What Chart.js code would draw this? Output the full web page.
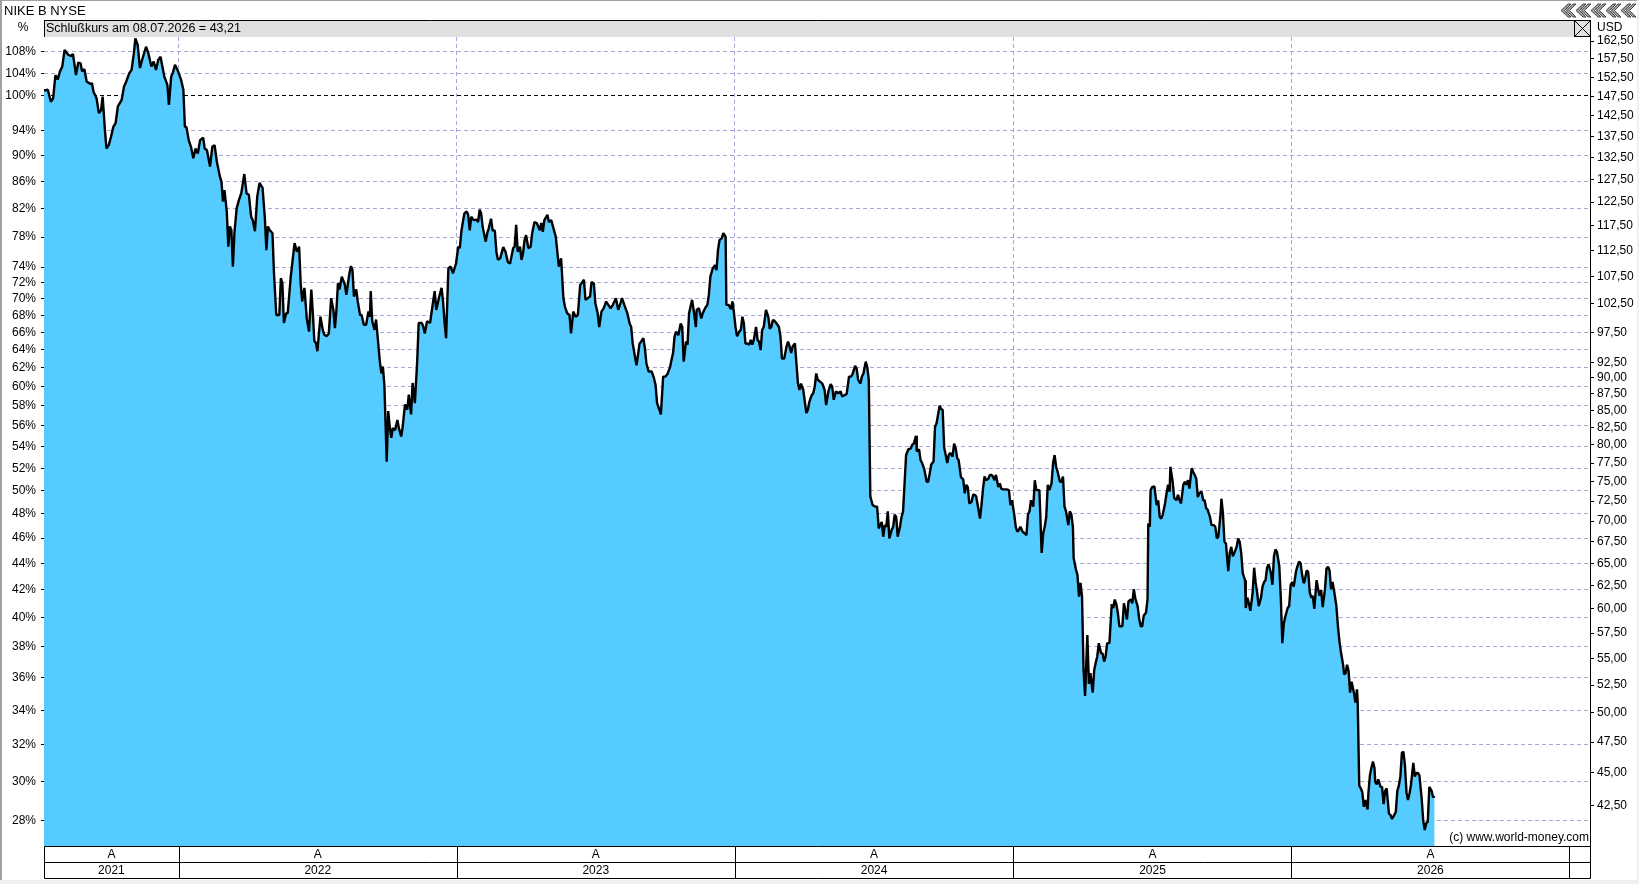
<!DOCTYPE html>
<html>
<head>
<meta charset="utf-8">
<title>NIKE B NYSE</title>
<script src="https://cdn.jsdelivr.net/npm/chart.js@4/dist/chart.umd.min.js"></script>
<style>
  html, body { margin: 0; padding: 0; background: #fff; }
  #wrap { width: 1639px; height: 884px; }
</style>
</head>
<body>
<div id="wrap"><canvas id="kurs" width="1639" height="884"></canvas></div>
<script>
// Titel / Texte
var titel = 'NIKE B NYSE';
var kopfzeile = 'Schlußkurs am 08.07.2026 = 43,21';
var quelle = '(c) www.world-money.com';

// Tage seit 08.07.2021 (Handelstage)
var tage = [
  0,5,9,12,15,18,21,24,27,32,
  36,38,42,45,48,50,53,56,61,63,
  65,69,72,75,77,80,82,85,88,91,
  94,97,102,105,108,112,115,118,120,123,
  126,130,134,137,141,144,147,150,153,155,
  158,162,164,167,169,172,176,180,183,185,
  187,190,193,196,199,202,205,209,211,214,
  218,221,224,227,231,233,235,237,240,242,
  244,246,248,250,253,256,259,263,266,269,
  272,274,277,280,283,287,290,292,294,296,
  300,302,305,309,311,313,315,318,320,324,
  326,329,332,335,337,339,342,345,348,351,
  353,355,357,359,361,363,366,368,371,374,
  377,380,382,384,386,388,391,395,397,401,
  403,405,407,410,412,415,417,420,423,426,
  428,429,431,434,436,439,441,443,445,447,
  450,452,454,456,458,461,464,466,469,471,
  474,477,479,482,484,487,490,492,496,498,
  500,503,507,510,513,515,519,522,524,526,
  528,531,534,537,541,544,
  546,548,550,552,555,557,559,561,564,568,
  570,572,574,576,580,582,584,587,589,592,
  594,596,599,603,606,609,612,616,618,620,
  622,625,627,629,631,633,636,639,641,644,
  647,651,653,655,657,661,663,666,669,672,
  674,676,679,682,684,687,690,692,695,698,
  701,704,707,709,711,714,717,719,722,724,
  727,729,732,735,738,741,744,747,751,754,
  757,759,762,766,769,771,773,776,778,780,
  782,784,787,789,791,794,798,801,803,805,
  808,810,813,816,819,822,824,826,828,830,
  833,836,838,840,843,845,847,849,851,853,
  856,857,860,863,865,868,871,873,875,878,
  881,883,885,887,890,892,895,896,899,902,
  904,906,908,910,913,915,917,919,921,923,
  926,928,930,932,935,937,939,941,943,945,
  948,951,953,955,957,959,962,965,967,969,
  972,975,977,979,981,983,986,988,990,992,
  994,997,999,1001,1003,1005,1008,1010,1012,1014,
  1016,1019,1022,1025,1027,1030,1033,1035,1037,1040,
  1043,1046,1048,1051,1054,1057,1060,1062,1065,1067,
  1069,1072,1074,1076,1079,1081,1083,1085,1088,1091,
  1094,1096,
  1097,1100,1102,1104,1106,1108,1110,1113,1115,1117,
  1119,1121,1124,1126,1128,1130,1132,1135,1138,1140,
  1142,1145,1146,1149,1151,1153,1156,1159,1161,1163,
  1165,1168,1170,1172,1174,1176,1178,1180,1182,1184,
  1186,1188,1190,1193,1195,1197,1199,1201,1204,1207,
  1209,1211,1213,1215,1218,1220,1222,1224,1226,1229,
  1231,1233,1235,1237,1240,1242,1244,1246,1248,1250,
  1253,1255,1257,1259,1264,1267,1269,1271,1274,1276,
  1278,1280,1282,1285,1288,1290,1292,1294,1296,1299,
  1301,1303,1305,1307,1310,1312,1314,1316,1318,1320,
  1323,1325,1327,1329,1331,1334,1336,1338,1340,1342,
  1345,1347,1349,1351,1352,1355,1357,1359,1361,1363,
  1365,1367,1370,1372,1374,1377,1379,1381,1383,1385,
  1388,1390,1392,1394,1396,1399,1402,1404,1406,1408,
  1410,1412,1416,1418,1420,1422,1424,1427,1429,1431,
  1433,1436,1438,1440,1442,1444,1447,1449,1450,1452,
  1453,1455,1458,1461,1463,1465,1467,1469,1472,1474,
  1476,1478,1479,1482,1484,1487,1489,1491,1493,1496,
  1498,1500,1502,1504,1507,1509,1511,1513,1515,1517,
  1520,1522,1524,1526,1528,1531,1533,1536,1538,1540,
  1542,1545,1546,1548,1550,1552,1555,1557,1559,1561,
  1563,1566,1568,1570,1572,1574,1577,1578,1580,1582,
  1584,1587,1589,1591,1593,1595,1598,1600,1602,1604,
  1606,1608,1611,1613,1615,1617,1619,1622,1624,1626,
  1628,1630,1633,1635,1637,1639,1641,1644,1646,1648,
  1650,1652,1654,
  1655,1658,1660,1662,1664,1666,1668,1671,1673,1675,
  1677,1679,1682,1684,1686,1688,1690,1692,1695,1697,
  1699,1701,1703,1706,1707,1709,1711,1713,1715,1717,
  1720,1722,1724,1725,1727,1729,1731,1733,1735,1738,
  1739,1741,1743,1745,1747,1748,1750,1752,1755,1757,
  1759,1761,1763,1766,1768,1770,1773,1775,1777,1779,
  1781,1783,1785,1787,1789,1791,1793,1795,1798,1800,
  1802,1804,1806,1809,1811,1813,1815,1817,1819,1822,
  1824,1826
];

// Schlusskurse in USD
var kurse = [
  149.0,149.2,146.1,147.0,153.1,151.9,154.1,155.4,160.0,158.6,
  158.3,158.9,153.1,156.5,156.3,154.1,154.7,151.4,150.7,150.9,
  148.7,147.0,143.2,144.0,147.4,139.0,134.6,135.4,137.4,139.8,
  140.7,144.9,146.6,150.0,151.4,153.6,154.5,159.1,163.3,161.4,
  155.0,158.1,160.9,159.1,155.4,156.8,154.5,157.2,158.1,155.9,
  152.7,150.5,145.3,152.7,153.6,155.9,154.1,151.8,149.2,139.8,
  139.8,136.6,135.0,132.3,134.6,133.4,136.6,137.2,134.6,134.2,
  130.4,135.0,135.4,131.5,128.1,127.0,122.6,125.1,120.5,113.3,
  117.4,116.7,109.4,116.0,121.2,123.0,124.4,128.7,124.4,124.1,
  119.4,118.7,116.4,123.7,126.7,125.6,119.1,112.6,117.4,116.7,
  116.0,108.1,100.5,100.5,107.2,106.3,99.1,100.8,100.8,107.5,
  110.0,114.0,112.3,113.3,106.3,102.9,105.4,99.9,97.6,105.1,
  100.8,96.0,95.7,94.3,97.3,100.2,97.9,97.1,96.8,97.3,
  103.5,101.4,98.2,101.4,106.3,105.1,107.5,106.0,104.1,108.1,
  109.5,108.8,103.8,105.1,102.9,100.5,100.5,98.8,98.8,101.1,
  100.2,104.8,99.4,97.9,99.7,95.4,92.6,90.7,91.8,88.7,
  77.7,84.9,82.6,81.0,82.4,82.1,83.6,82.4,81.2,82.6,
  85.9,85.1,87.4,84.4,89.2,86.1,92.6,99.1,99.1,98.5,
  97.3,99.4,99.1,102.0,104.8,101.4,103.8,105.4,102.9,99.1,
  96.5,109.1,109.4,108.1,110.0,113.3,
  113.0,116.3,118.3,120.1,120.5,119.8,116.6,119.4,118.7,118.8,
  118.3,120.9,120.1,117.3,114.3,116.0,117.0,119.0,116.6,116.5,
  112.3,110.7,111.0,113.2,112.3,110.3,110.0,113.0,113.3,117.7,
  112.3,113.3,110.7,112.0,114.6,115.6,113.0,113.3,116.0,118.3,
  118.1,116.6,118.1,116.3,118.7,119.8,118.3,118.7,117.0,115.3,
  112.3,109.4,111.0,103.5,102.0,100.8,100.5,97.3,101.1,100.2,
  100.5,105.9,106.5,106.9,103.2,103.5,103.8,106.5,106.2,102.6,
  100.8,98.4,101.1,101.7,102.9,102.3,101.7,102.3,103.5,101.4,
  102.6,103.5,102.3,100.8,99.0,98.4,95.6,93.4,92.0,93.7,
  95.6,95.9,96.5,94.8,92.3,91.0,91.0,89.9,88.9,86.1,
  85.1,84.4,90.2,90.2,90.7,91.7,92.9,94.0,96.8,97.6,
  97.0,99.0,98.4,92.6,95.9,95.4,100.8,102.0,103.2,101.4,
  98.4,101.4,101.7,99.9,100.8,101.7,102.3,104.1,107.5,109.0,
  109.7,108.7,112.6,114.6,115.0,116.0,115.3,102.3,102.3,101.5,
  102.9,100.8,98.4,96.8,97.6,97.9,100.2,99.0,95.6,95.6,
  95.4,96.2,95.4,96.2,98.4,96.2,95.9,94.5,97.9,98.4,
  101.4,100.2,98.1,98.4,99.6,99.5,99.0,98.4,96.8,93.1,
  93.1,95.1,95.9,95.1,94.0,95.1,95.6,92.3,89.1,88.1,
  89.1,88.1,86.3,84.6,85.1,86.3,87.3,87.6,88.6,90.7,
  89.7,89.4,89.1,88.1,85.8,87.9,89.0,88.6,86.6,87.9,
  87.6,87.9,87.1,87.3,87.5,90.2,90.2,90.7,91.9,91.5,
  89.7,89.1,90.2,90.7,92.6,91.7,89.7,73.1,72.0,71.8,
  71.8,69.1,
  69.3,69.9,68.1,69.5,69.3,71.2,67.9,68.9,69.3,70.8,
  70.5,68.1,69.3,70.5,71.2,74.8,78.6,79.4,79.5,80.0,
  80.2,81.3,79.1,79.4,77.9,77.5,76.6,75.0,75.0,76.1,
  77.3,77.7,82.6,83.1,84.4,85.7,85.2,85.1,79.6,78.6,
  77.5,78.6,78.9,78.4,80.2,79.6,78.2,77.9,75.6,75.3,
  73.5,74.6,74.3,72.2,72.4,73.3,73.3,73.1,72.0,70.3,
  72.0,74.1,75.7,75.2,75.4,75.9,75.9,75.7,75.2,75.9,
  74.3,74.8,74.1,74.0,74.0,73.9,72.0,72.6,70.8,69.3,
  68.7,68.9,69.3,68.7,68.5,68.3,70.8,71.2,72.6,71.8,
  75.2,73.9,73.9,73.9,66.2,68.5,69.3,70.5,74.6,73.9,
  74.8,77.5,78.6,77.0,76.3,75.0,75.0,75.7,71.8,71.2,
  69.5,71.2,70.8,69.3,65.6,64.3,63.7,61.3,62.8,61.3,
  53.9,51.5,57.3,52.6,53.6,51.8,53.9,54.6,55.2,56.5,
  55.5,55.5,54.7,55.2,56.5,56.5,60.5,60.1,61.0,60.5,
  59.6,58.2,58.2,60.6,59.8,58.9,60.8,61.0,60.6,62.1,
  61.1,60.3,59.0,58.2,58.2,59.3,59.6,61.0,69.7,69.3,
  73.9,74.3,74.4,72.0,72.6,70.5,70.3,70.8,72.2,73.5,
  74.6,73.7,77.0,75.0,72.9,72.6,73.3,72.6,72.2,74.6,
  75.0,74.6,75.2,74.1,76.8,76.3,75.9,75.4,73.0,73.5,
  73.7,72.6,72.6,71.6,71.4,70.5,69.5,69.5,69.3,67.9,
  68.1,71.0,72.8,71.0,67.5,67.3,64.1,66.2,66.9,65.8,
  66.2,66.9,67.9,67.5,66.2,63.9,63.1,60.1,61.2,60.6,
  59.8,61.7,64.5,62.8,61.7,60.3,61.2,62.4,62.9,63.1,
  64.5,64.9,63.9,62.6,65.8,66.6,66.3,64.7,61.2,56.5,
  58.5,59.2,60.1,60.3,62.6,62.9,62.4,64.1,64.7,65.2,
  65.0,63.7,62.8,
  62.9,64.2,64.0,61.8,61.2,61.4,60.0,63.1,62.1,61.4,
  62.0,60.2,62.1,64.4,64.6,64.2,62.1,62.9,61.4,60.3,
  58.2,56.7,55.6,54.3,53.5,53.6,54.4,53.8,51.8,52.8,
  51.8,50.9,52.1,50.9,44.0,43.8,43.5,42.4,42.9,42.2,
  43.4,44.8,45.4,45.9,45.4,44.3,44.1,44.5,43.9,43.9,
  42.6,43.6,43.8,41.9,41.8,41.5,41.8,42.0,43.6,44.0,
  44.7,46.6,46.7,45.6,43.5,42.9,43.4,44.1,45.8,44.7,
  45.0,45.0,44.8,43.0,41.4,40.7,41.2,41.3,43.9,43.6,
  43.1,43.21
];

// Basis (100 %) und Achsen
var basisKurs = 147.7;
var prozentTicks = [28,30,32,34,36,38,40,42,44,46,48,50,52,54,56,58,60,62,64,66,68,70,72,74,78,82,86,90,94,100,104,108];
var usdTicks = [42.5,45,47.5,50,52.5,55,57.5,60,62.5,65,67.5,70,72.5,75,77.5,80,82.5,85,87.5,90,92.5,97.5,102.5,107.5,112.5,117.5,122.5,127.5,132.5,137.5,142.5,147.5,152.5,157.5,162.5];
var usdMin = 39.58, usdMax = 163.68;

// Jahre (Tage seit Start, jeweils 1. Januar)
var jahre = ['2021','2022','2023','2024','2025','2026'];
var jahresAnfang = [0, 177, 542, 907, 1273, 1638, 2003];
var xMax = 2030;

var schrift = '"Liberation Sans", Arial, sans-serif';

function fmtUsd(v) { return v.toFixed(2).replace('.', ','); }

// Rahmen, Kopfzeile, Jahresleiste
var rahmen = {
  id: 'rahmen',
  beforeDraw: function(chart) {
    var c = chart.ctx;
    c.save();
    c.fillStyle = '#ffffff';
    c.fillRect(0, 0, chart.width, chart.height);
    c.restore();
  },
  afterDraw: function(chart) {
    var c = chart.ctx, a = chart.chartArea, xs = chart.scales.x;
    c.save();
    // Fensterrand
    c.fillStyle = '#a0a0a0';
    c.fillRect(0, 0, chart.width, 1);
    c.fillRect(0, 0, 2, chart.height);
    c.fillStyle = '#f0f0f0';
    c.fillRect(0, 880, chart.width, 4);
    c.fillRect(1637, 0, 2, chart.height);

    // Titel
    c.fillStyle = '#000';
    c.font = '13px ' + schrift;
    c.textBaseline = 'middle';
    c.textAlign = 'left';
    c.fillText(titel, 4, 11);

    // Kopfzeile
    c.fillStyle = '#e0e0e0';
    c.fillRect(a.left, 21, a.right - a.left, a.top - 21);
    c.strokeStyle = '#000';
    c.lineWidth = 1;
    c.beginPath();
    c.moveTo(a.left, 20.5); c.lineTo(a.right + 0.5, 20.5);
    c.moveTo(a.left + 0.5, 20.5); c.lineTo(a.left + 0.5, a.top);
    c.moveTo(a.right + 0.5, 20.5); c.lineTo(a.right + 0.5, a.top);
    c.stroke();
    c.fillStyle = '#000';
    c.font = '12.5px ' + schrift;
    c.fillText(kopfzeile, a.left + 2, 29);

    // Schliessen-Box
    var bx = a.right - 16;
    c.beginPath();
    c.rect(bx + 0.5, 20.5, 16, 16);
    c.moveTo(bx + 0.5, 20.5); c.lineTo(bx + 16.5, 36.5);
    c.moveTo(bx + 16.5, 20.5); c.lineTo(bx + 0.5, 36.5);
    c.stroke();

    // Einheiten
    c.font = '12px ' + schrift;
    c.textAlign = 'center';
    c.fillText('%', 23, 28);
    c.textAlign = 'left';
    c.fillText('USD', a.right + 7, 28);

    // Pfeil-Symbole oben rechts
    for (var i = 0; i < 5; i++) {
      var x0 = 1561 + i * 15;
      for (var k = 0; k < 2; k++) {
        var xx = x0 + k * 5;
        c.beginPath();
        c.moveTo(xx, 10.5);
        c.lineTo(xx + 7, 4);
        c.lineTo(xx + 10, 4);
        c.lineTo(xx + 3.5, 10.5);
        c.lineTo(xx + 10, 17);
        c.lineTo(xx + 7, 17);
        c.closePath();
        c.fillStyle = '#9c9c9c';
        c.fill();
        c.strokeStyle = '#4a4a4a';
        c.stroke();
      }
    }

    // Quelle
    c.fillStyle = '#000';
    c.textAlign = 'right';
    c.font = '12px ' + schrift;
    c.fillText(quelle, a.right - 1, a.bottom - 8);

    // Jahresleiste
    c.strokeStyle = '#000';
    var y1 = a.bottom, y2 = a.bottom + 16, y3 = a.bottom + 32;
    c.beginPath();
    c.rect(a.left + 0.5, y1 + 0.5, a.right - a.left, y3 - y1);
    c.moveTo(a.left, y2 + 0.5); c.lineTo(a.right, y2 + 0.5);
    for (var j = 1; j < jahresAnfang.length; j++) {
      var px = Math.round(xs.getPixelForValue(jahresAnfang[j])) + 0.5;
      c.moveTo(px, y1); c.lineTo(px, y3);
    }
    c.stroke();
    c.textAlign = 'center';
    for (var n = 0; n < jahre.length; n++) {
      var l = xs.getPixelForValue(jahresAnfang[n]);
      var r = xs.getPixelForValue(jahresAnfang[n + 1]);
      var m = (l + r) / 2;
      c.fillText('A', m, y1 + 9);
      c.fillText(jahre[n], m, y2 + 9);
    }
    c.restore();
  }
};

var punkte = tage.map(function(t, i) { return { x: t, y: kurse[i] }; });

new Chart(document.getElementById('kurs').getContext('2d'), {
  type: 'line',
  data: {
    datasets: [{
      data: punkte,
      yAxisID: 'usd',
      borderColor: '#000000',
      borderWidth: 2.4,
      borderJoinStyle: 'bevel',
      backgroundColor: '#55cbff',
      fill: 'start',
      pointRadius: 0,
      tension: 0
    }]
  },
  options: {
    responsive: false,
    animation: false,
    devicePixelRatio: 1,
    layout: { padding: { top: 37, bottom: 38, left: 0, right: 0 } },
    plugins: { legend: { display: false }, tooltip: { enabled: false } },
    scales: {
      x: {
        type: 'linear',
        min: 0,
        max: xMax,
        afterBuildTicks: function(s) {
          s.ticks = jahresAnfang.slice(1, 6).map(function(v) { return { value: v }; });
        },
        afterFit: function(s) { s.height = 0; },
        ticks: { display: false },
        grid: { color: '#a8a8d8', drawTicks: false, lineWidth: 1 },
        border: { display: false, dash: [4, 3] }
      },
      pct: {
        type: 'logarithmic',
        position: 'left',
        min: usdMin / basisKurs * 100,
        max: usdMax / basisKurs * 100,
        afterBuildTicks: function(s) {
          s.ticks = prozentTicks.map(function(v) { return { value: v }; });
        },
        afterFit: function(s) { s.width = 44; },
        ticks: {
          autoSkip: false,
          padding: 5,
          color: '#000',
          font: { family: schrift, size: 12 },
          callback: function(v) { return v + '%'; }
        },
        grid: {
          color: function(ctx) { return ctx.tick && ctx.tick.value === 100 ? '#000000' : '#a8a8d8'; },
          tickColor: '#000',
          tickLength: 3,
          tickBorderDash: [],
          lineWidth: 1
        },
        border: { display: false, dash: [4, 3] }
      },
      usd: {
        type: 'logarithmic',
        position: 'right',
        min: usdMin,
        max: usdMax,
        afterBuildTicks: function(s) {
          s.ticks = usdTicks.map(function(v) { return { value: v }; });
        },
        afterFit: function(s) { s.width = 49; },
        ticks: {
          autoSkip: false,
          padding: 3,
          color: '#000',
          font: { family: schrift, size: 12 },
          callback: function(v) { return fmtUsd(v); }
        },
        grid: { drawOnChartArea: false, tickColor: '#000', tickLength: 4 },
        border: { display: true, color: '#000', width: 1 }
      }
    }
  },
  plugins: [rahmen]
});
</script>
</body>
</html>
